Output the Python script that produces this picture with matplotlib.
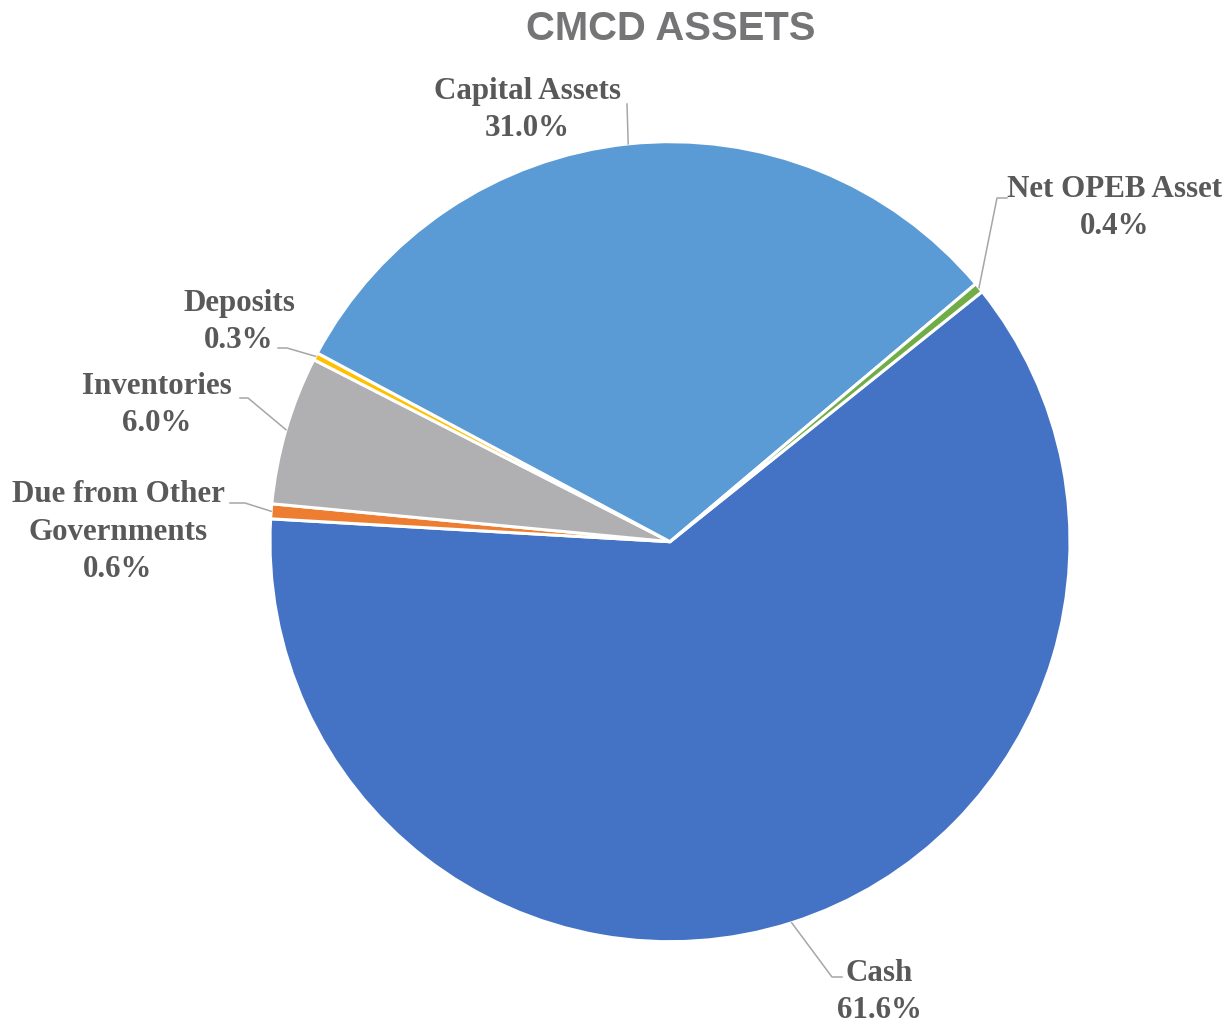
import numpy as np
import matplotlib.pyplot as plt

labels = ["Cash", "Due from Other\nGovernments", "Inventories", "Deposits",
          "Capital Assets", "Net OPEB Asset"]
values = [61.6, 0.6, 6.0, 0.3, 31.0, 0.4]
colors = ["#4472C4", "#ED7D31", "#B0B0B3", "#FFC000", "#5B9BD5", "#70AD47"]

# label layout in pixels: text centre, elbow of leader, end of leader
text_px = [(879, 992), (118, 532), (157, 405), (239, 322), (527, 110), (1115, 208)]
elbow_px = [(832, 977), (245, 503), (248, 398), (287, 348), (627, 104), (997, 198)]
end_px = [(842, 977), (230, 503), (240, 398), (278, 348), (627, 104), (1007, 198)]

W, H = 1232, 1025
CX, CY, R = 670, 541.7, 400


def px(p):
    return ((p[0] - CX) / R, (CY - p[1]) / R)


fig = plt.figure(figsize=(W / 100, H / 100), dpi=100)
ax = fig.add_axes([0, 0, 1, 1])

wedges, _ = ax.pie(values, colors=colors, startangle=38.7, counterclock=False,
                   radius=1, normalize=True,
                   wedgeprops=dict(edgecolor="white", linewidth=2.2))
# pie() resets the limits, so set them afterwards
ax.set_xlim(-CX / R, (W - CX) / R)
ax.set_ylim((CY - H) / R, CY / R)
ax.set_aspect("equal", adjustable="datalim")
ax.axis("off")

for w, lab, v, t, e, n in zip(wedges, labels, values, text_px, elbow_px, end_px):
    mid = np.deg2rad((w.theta1 + w.theta2) / 2)
    sx, sy = np.cos(mid), np.sin(mid)
    ex, ey = px(e)
    nx, ny = px(n)
    ax.plot([sx, ex, nx], [sy, ey, ny], color="#A6A6A6", lw=1.1, zorder=1)
    tx, ty = px(t)
    ax.text(tx, ty, f"{lab}\n{v:.1f}%", ha="center", va="center",
            fontsize=22.3, fontweight="bold", family="Liberation Serif",
            color="#595959", linespacing=1.37)

fig.text(671 / W, 1 - 29 / H, "CMCD ASSETS", ha="center", va="center",
         fontsize=28.8, fontweight="bold", family="Liberation Sans", color="#757578")

fig.savefig("out.png", dpi=100)
